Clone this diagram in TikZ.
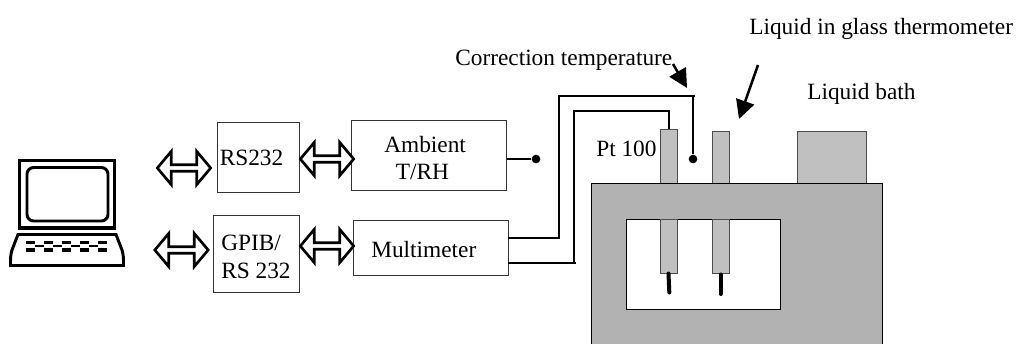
\documentclass[tikz,border=0pt]{standalone}
\usepackage{fontspec}
\setmainfont{Liberation Serif}
\usetikzlibrary{shapes.arrows,arrows.meta}
\definecolor{bathgray}{HTML}{B2B2B2}
\definecolor{probegray}{HTML}{C0C0C0}
\tikzset{
  x=0.75pt,y=-0.75pt,
  lab/.style={inner sep=0pt,font=\fontsize{17.5}{20.5}\selectfont,align=center},
  box/.style={draw=black!80,line width=0.8pt,inner sep=0pt},
  dbl/.style={draw=black,fill=white,line width=2pt,double arrow,double arrow tip angle=100,
    double arrow head extend=4.2pt,minimum height=40pt,minimum width=25pt,inner sep=0pt,outer sep=0pt},
  wire/.style={line width=1.1pt},
  bigarrow/.style={line width=1.9pt,-{Triangle[length=14pt,width=14pt]}},
  grayshape/.style={draw=black!70,line width=0.7pt,fill=probegray},
  tipline/.style={line width=3pt,line cap=round},
  dot/.style={circle,fill=black,inner sep=0pt,minimum size=6.5pt},
}
\begin{document}
\begin{tikzpicture}
\useasboundingbox (0,0) rectangle (1019,343);
% laptop
\draw[line width=2.4pt] (19.5,160.5) rectangle (114.5,228);
\draw[line width=2.2pt,rounded corners=5pt] (27,167.5) rectangle (108,221);
\draw[line width=2.2pt] (18,234.5) -- (116,234.5) -- (122,250) .. controls (123.5,255) and (123.5,258) .. (123.5,265.5) -- (10.5,265.5) .. controls (10.5,258) and (10.5,255) .. (12,250) -- cycle;
\foreach \y in {242.5,250}
  \draw[line width=2.6pt,dash pattern=on 6.75pt off 6.75pt] (26,\y) -- (107,\y);
\draw[line width=1.3pt,dash pattern=on 6.75pt off 6.75pt,dash phase=6.75pt] (26,246.3) -- (107,246.3);
% boxes
\node[box,minimum width=62pt,minimum height=52pt] (rs) at (258.5,157.5) {};
\node[box,minimum width=116pt,minimum height=52pt] (amb) at (429,155.5) {};
\node[box,minimum width=64pt,minimum height=58pt] (gpib) at (256.5,254) {};
\node[box,minimum width=116pt,minimum height=41pt] (multi) at (431,248) {};
\node[lab,anchor=west] at (219.5,158) {RS232};
\node[lab,align=left,anchor=west] at (384,158) {Ambient\\ \ \ T/RH};
\node[lab,align=left,anchor=west] at (221,257) {GPIB/\\RS 232};
\node[lab,anchor=west] at (371,250) {Multimeter};
% double arrows
\node[dbl] (a1) at (184,168) {};
\node[dbl] (a2) at (327,159) {};
\node[dbl] (a3) at (181.5,250) {};
\node[dbl] (a4) at (327,246) {};
% bath
\node[grayshape,anchor=north west,inner sep=0pt,minimum width=51.5pt,minimum height=39.5pt] (lid) at (797,130.5) {};
\draw[grayshape] (660,129) rectangle (677,184);
\draw[grayshape] (712,131) rectangle (729,184);
\node[draw=black,line width=0.8pt,fill=bathgray,anchor=north west,inner sep=0pt,minimum width=218.5pt,minimum height=125pt] (bath) at (591,183) {};
\node[draw=black,line width=0.8pt,fill=white,anchor=north west,inner sep=0pt,minimum width=116pt,minimum height=67.5pt] (cav) at (625.5,219) {};
\draw[grayshape] (660,219) rectangle (677,273.5);
\draw[grayshape] (712,219) rectangle (729,273);
\draw[tipline] (668.5,273.5) -- (669.3,292.5);
\draw[tipline] (720.5,274.5) -- (720.5,294);
% wiring
\coordinate (d1) at (536,159);
\coordinate (d2) at (693,159);
\coordinate (p1) at (669,129);
\node[dot] (ambdot) at (d1) {};
\node[dot] (corrdot) at (d2) {};
\draw[wire] (amb.east |- ambdot) -- (ambdot);
\draw[wire] (508,238) -- (559,238) -- (559,96) -- (695,96);
\draw[wire] (693,96) -- (corrdot);
\draw[wire] (508,263) -- (576,263);
\draw[wire] (574,263) -- (574,111) -- (669,111) -- (p1);
% labels
\node[lab,anchor=west] (tc) at (455,60) {Correction temperature};
\node[lab,anchor=west] (lg) at (749,29) {Liquid in glass thermometer};
\node[lab,anchor=west] (lb) at (807,94) {Liquid bath};
\node[lab,anchor=west] (pt) at (596,149) {Pt 100};
\coordinate (ta) at (673,64);
\coordinate (tb) at (687,88);
\coordinate (ua) at (758,65);
\coordinate (ub) at (739,119);
\draw[bigarrow] (ta) -- (tb);
\draw[bigarrow] (ua) -- (ub);
\end{tikzpicture}
\end{document}
